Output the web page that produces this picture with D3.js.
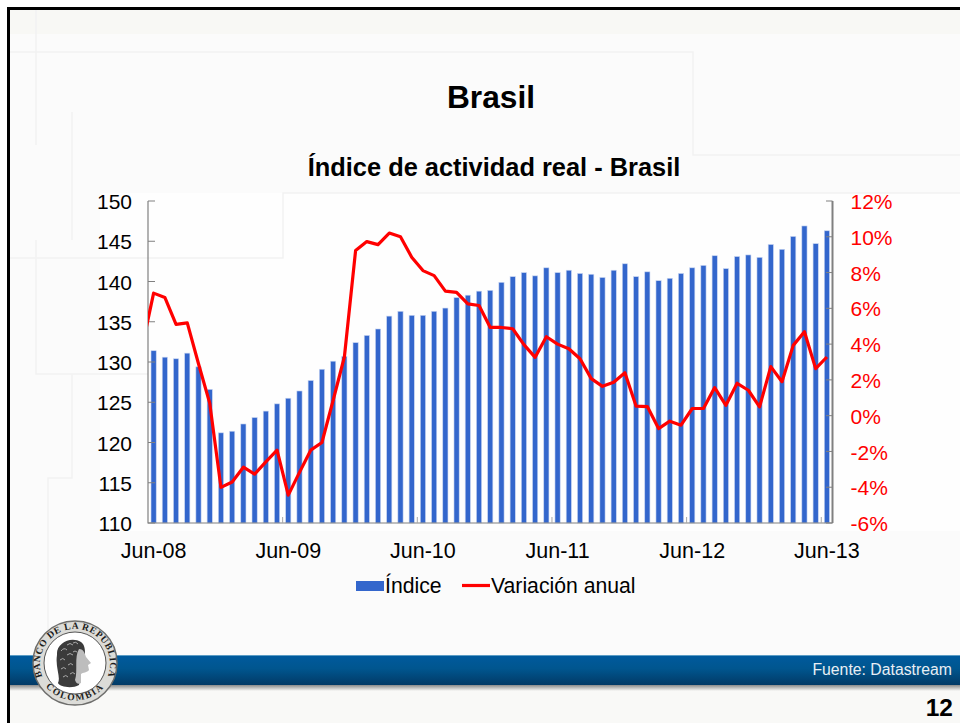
<!DOCTYPE html>
<html><head><meta charset="utf-8">
<script src="https://cdn.jsdelivr.net/npm/d3@7"></script>
<style>html,body{margin:0;padding:0;background:#fff}svg{display:block;font-family:"Liberation Sans",Arial,sans-serif}</style>
</head><body><div id="c"></div>
<script>
const tickLabels = ["Jun-08","Jun-09","Jun-10","Jun-11","Jun-12","Jun-13"];
const leftTicks = [110,115,120,125,130,135,140,145,150];
const rightTicks = [-6,-4,-2,0,2,4,6,8,10,12];
const indice = [131.4,130.6,130.4,131.1,129.4,126.6,121.2,121.4,122.3,123.1,123.9,124.8,125.5,126.4,127.7,129.1,130.1,130.7,132.4,133.3,134.1,135.7,136.3,135.8,135.8,136.3,136.7,138.0,138.3,138.8,138.9,139.9,140.6,141.1,140.7,141.7,141.1,141.4,141.0,140.9,140.5,141.4,142.2,140.6,141.2,140.1,140.4,141.0,141.7,142.0,143.2,141.6,143.1,143.3,143.0,144.6,144.0,145.6,146.9,144.7,146.3];
const variacionPrevia = 3.9;
const variacion = [6.85,6.61,5.10,5.19,2.9,0.7,-4.01,-3.71,-2.88,-3.27,-2.58,-1.93,-4.44,-3.17,-1.93,-1.5,0.86,3.28,9.23,9.73,9.56,10.21,10.0,8.86,8.11,7.83,6.96,6.89,6.25,6.16,4.93,4.93,4.86,3.97,3.26,4.41,4.0,3.74,3.18,2.07,1.64,1.87,2.4,0.53,0.51,-0.72,-0.31,-0.53,0.4,0.4,1.57,0.58,1.81,1.42,0.49,2.74,1.9,3.93,4.69,2.63,3.28];
const months = d3.range(indice.length);

const W=960,H=723;
const svg=d3.select("#c").append("svg").attr("width",W).attr("height",H);
const defs=svg.append("defs");
const g1=defs.append("linearGradient").attr("id","band").attr("x1",0).attr("x2",0).attr("y1",0).attr("y2",1);
g1.append("stop").attr("offset",0).attr("stop-color","#005a9e");
g1.append("stop").attr("offset",0.45).attr("stop-color","#00568f");
g1.append("stop").attr("offset",1).attr("stop-color","#023a66");
const g2=defs.append("linearGradient").attr("id","sh").attr("x1",0).attr("x2",0).attr("y1",0).attr("y2",1);
g2.append("stop").attr("offset",0).attr("stop-color","#8a8a8a");
g2.append("stop").attr("offset",1).attr("stop-color","#fafaf8");
const blur=defs.append("filter").attr("id","soft");blur.append("feGaussianBlur").attr("stdDeviation",0.5);
defs.append("clipPath").attr("id","plot").append("rect").attr("x",148).attr("y",190).attr("width",690).attr("height",340);

// slide background
svg.append("rect").attr("width",W).attr("height",H).attr("fill","#fff");
svg.append("rect").attr("x",10).attr("y",10).attr("width",950).attr("height",713).attr("fill","#fbfbfb");
svg.append("rect").attr("x",10).attr("y",10).attr("width",950).attr("height",24).attr("fill","#f8f8f5");
svg.append("rect").attr("x",10).attr("y",685).attr("width",950).attr("height",38).attr("fill","#f9f9f7");
svg.append("rect").attr("x",100).attr("y",193).attr("width",860).attr("height",338).attr("fill","#fefefe");
const deco=svg.append("g").attr("fill","none").attr("stroke","#f2f2f2").attr("stroke-width",1.5);
["M10,52H693V155H960","M36,10V145","M72,112V240","M10,258H283V193H960","M36,240V374H148","M72,374V478H48V640"].forEach(d=>deco.append("path").attr("d",d));
svg.append("path").attr("d","M8.5,723V8.5H960").attr("fill","none").attr("stroke","#000").attr("stroke-width",3);

// scales
const x=d3.scaleBand().domain(months).range([148,832.5]);
const yL=d3.scaleLinear().domain([110,150]).range([523,201]);
const yR=d3.scaleLinear().domain([-6,12]).range([523,201]);

// titles
svg.append("text").attr("x",491).attr("y",108).attr("text-anchor","middle").attr("font-size",31.7).attr("font-weight","bold").attr("fill","#000").text("Brasil");
svg.append("text").attr("x",494).attr("y",176).attr("text-anchor","middle").attr("font-size",25.4).attr("font-weight","bold").attr("fill","#000").text("Índice de actividad real - Brasil");

// bars
svg.append("g").selectAll("rect").data(indice).join("rect")
 .attr("x",(d,i)=>x(i)+x.bandwidth()/2-2.6).attr("width",5.2)
 .attr("y",d=>yL(d)).attr("height",d=>yL(110)-yL(d))
 .attr("fill","#3366cc").attr("stroke","#c9d6f2").attr("stroke-width",0.6);

// axes
const axL=d3.axisLeft(yL).tickValues(leftTicks).tickSize(0).tickPadding(16);
const gL=svg.append("g").attr("transform","translate(148,0)").call(axL);
gL.select(".domain").remove();
gL.selectAll("text").attr("font-size",21).attr("fill","#000").style("font-family","'Liberation Sans'").attr("dy","0.36em");
const axR=d3.axisRight(yR).tickValues(rightTicks).tickSize(0).tickPadding(18).tickFormat(d=>d+"%");
const gR=svg.append("g").attr("transform","translate(832.5,0)").call(axR);
gR.select(".domain").remove();
gR.selectAll("text").attr("font-size",21).attr("fill","#ff0000").style("font-family","'Liberation Sans'").attr("dy","0.36em");

const tk=svg.append("g").attr("stroke","#808080").attr("fill","none");
tk.append("path").attr("d",`M${x.range()[0]},${yL(150)}V${yL(110)}H${x.range()[1]}`).attr("stroke-width",1.2);
tk.append("path").attr("d",`M${x.range()[1]},${yL(110)}V${yL(150)}`).attr("stroke-width",2);
tk.selectAll(".l").data(leftTicks).join("line").attr("class","l").attr("x1",148).attr("x2",155).attr("y1",d=>yL(d)).attr("y2",d=>yL(d));
tk.selectAll(".r").data(rightTicks).join("line").attr("class","r").attr("x1",826).attr("x2",832.5).attr("y1",d=>yR(d)).attr("y2",d=>yR(d));
const labelled=months.filter(i=>i%12===0);
tk.selectAll(".b").data(labelled.slice(1)).join("line").attr("class","b").attr("x1",d=>x(d)).attr("x2",d=>x(d)).attr("y1",523).attr("y2",517).attr("stroke","#a8a8a8");

svg.append("g").selectAll("text").data(labelled).join("text")
 .attr("x",d=>x(d)+x.bandwidth()/2).attr("y",558).attr("text-anchor","middle").attr("font-size",21.5).attr("fill","#000")
 .text((d,i)=>tickLabels[i]);

// line
const line=d3.line().x(d=>d[0]).y(d=>yR(d[1]));
const pts=[[x(0)+x.bandwidth()/2-x.step(),variacionPrevia]].concat(variacion.map((v,i)=>[x(i)+x.bandwidth()/2,v]));
svg.append("path").attr("clip-path","url(#plot)").attr("d",line(pts)).attr("fill","none").attr("stroke","#ff0000").attr("stroke-width",3.2).attr("stroke-linejoin","round");

// legend
svg.append("rect").attr("x",356).attr("y",581).attr("width",28).attr("height",10).attr("fill","#3366cc");
svg.append("text").attr("x",385).attr("y",593).attr("font-size",21.2).attr("fill","#000").text("Índice");
svg.append("line").attr("x1",462).attr("x2",490).attr("y1",585.5).attr("y2",585.5).attr("stroke","#ff0000").attr("stroke-width",3.2);
svg.append("text").attr("x",491).attr("y",593).attr("font-size",21.2).attr("fill","#000").text("Variación anual");

// footer band
svg.append("rect").attr("x",10).attr("y",685).attr("width",950).attr("height",6).attr("fill","url(#sh)");
svg.append("rect").attr("x",10).attr("y",655).attr("width",950).attr("height",30).attr("fill","url(#band)");
svg.append("rect").attr("x",10).attr("y",655).attr("width",950).attr("height",1).attr("fill","#5b9cc4");
svg.append("text").attr("x",952).attr("y",675).attr("text-anchor","end").attr("font-size",15.8).attr("fill","#e8eef4").text("Fuente: Datastream");
svg.append("text").attr("x",953).attr("y",716).attr("text-anchor","end").attr("font-size",24.5).attr("font-weight","bold").attr("fill","#000").text("12");

// seal
const s=svg.append("g").attr("transform","translate(75,663)");
s.append("circle").attr("r",42).attr("fill","#dcdcd8").attr("stroke","#6e6e6c").attr("stroke-width",1.5);
s.append("circle").attr("r",31).attr("fill","#fff").attr("stroke","#555").attr("stroke-width",1);
defs.append("path").attr("id","arcTop").attr("d","M-33.5,11A35,35 0 1 1 33.5,11");
defs.append("path").attr("id","arcBot").attr("d","M-29,24A38,38 0 0 0 29,24");
s.append("text").style("font-family","'Liberation Serif'").attr("font-size",9.5).attr("font-weight","bold").attr("fill","#1c1c1c").attr("letter-spacing",0.6)
 .append("textPath").attr("href","#arcTop").attr("startOffset","50%").attr("text-anchor","middle").text("BANCO DE LA REPUBLICA");
s.append("text").style("font-family","'Liberation Serif'").attr("font-size",9.5).attr("font-weight","bold").attr("fill","#1c1c1c").attr("letter-spacing",1.6)
 .append("textPath").attr("href","#arcBot").attr("startOffset","50%").attr("text-anchor","middle").text("COLOMBIA");
// portrait: dark wreathed hair, pale profile
s.append("path").attr("d","M-18,-8C-19,-20 -4,-27 6,-21C10,-18 10,-13 10,-9L4,4L6,12L4,22C-3,26 -15,24 -17,20C-14,14 -20,4 -18,-8Z").attr("fill","#3a3a3a").attr("filter","url(#soft)");
s.append("path").attr("d","M4,-14C9,-14 10,-9 11,-6L16,0L13,2L14,7C12,10 8,9 6,11L6,20C3,22 1,20 0,17C3,8 -1,-6 4,-14Z").attr("fill","#bdbdbd").attr("filter","url(#soft)");
const curls=s.append("g").attr("fill","none").attr("stroke","#aaa").attr("stroke-width",1);
["M-14,-12q3,-4 6,-1","M-8,-18q3,-3 6,0","M-2,-20q3,-2 5,1","M-15,-3q3,-3 5,0","M-8,-8q3,-3 6,0","M-2,-11q2,-2 4,0","M-14,6q3,-3 5,0","M-7,2q3,-3 5,0","M-12,14q3,-3 5,0","M-5,11q3,-3 5,0"].forEach(d=>curls.append("path").attr("d",d));
</script></body></html>
